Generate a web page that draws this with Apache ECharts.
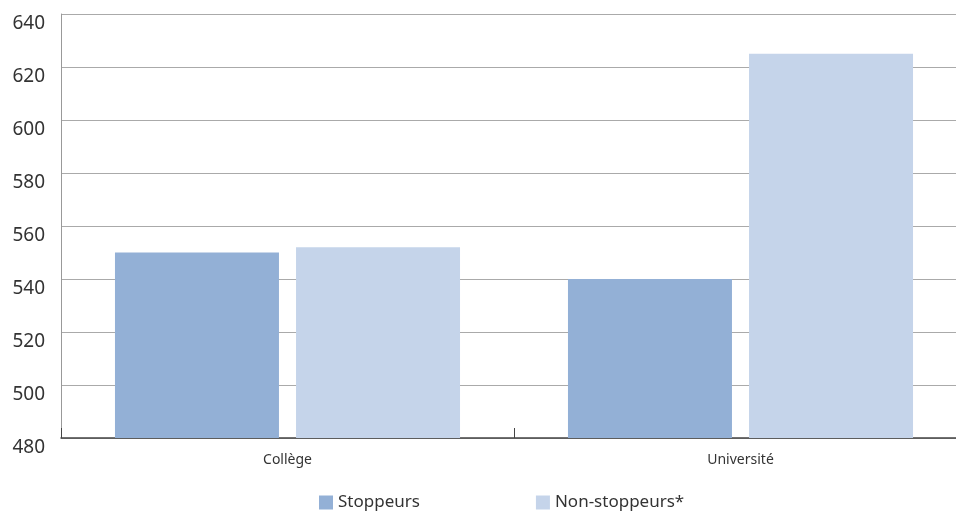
<!DOCTYPE html>
<html><head><meta charset="utf-8">
<script src="https://cdn.jsdelivr.net/npm/echarts@6/dist/echarts.min.js"></script>
<style>html,body{margin:0;padding:0;background:#fff;overflow:hidden}#c{width:970px;height:512px}</style>
</head><body><div id="c"></div>
<script>
var categories = ['Collège', 'Université'];
var stoppeurs = [550, 540];
var nonStoppeurs = [552, 625];
var seriesNames = ['Stoppeurs', 'Non-stoppeurs*'];
var yMin = 480, yMax = 640, yStep = 20;

var chart = echarts.init(document.getElementById('c'), null, {renderer: 'canvas'});
var font = '"Noto Sans", sans-serif';
chart.setOption({
  animation: false,
  textStyle: {fontFamily: font},
  grid: {left: 61, right: 3, top: 14, bottom: 74, containLabel: false},
  legend: {
    left: 314, top: 489, itemWidth: 14, itemHeight: 14, itemGap: 116,
    icon: 'rect',
    textStyle: {fontSize: 17, color: '#333', fontFamily: font},
    data: seriesNames
  },
  xAxis: {
    type: 'category', data: categories,
    axisLine: {lineStyle: {color: '#444', width: 1.5}},
    axisTick: {show: true, inside: true, length: 10, interval: 0, lineStyle: {color: '#444'}},
    axisLabel: {fontSize: 14, color: '#333', margin: 15, fontFamily: font}
  },
  yAxis: {
    type: 'value', min: yMin, max: yMax, interval: yStep,
    axisLine: {show: true, lineStyle: {color: '#999'}},
    axisTick: {show: false},
    splitLine: {lineStyle: {color: '#aaa', width: 1}},
    axisLabel: {fontSize: 19, color: '#333', margin: 16, verticalAlign: 'top', fontFamily: font}
  },
  series: [
    {name: seriesNames[0], type: 'bar', data: stoppeurs, barWidth: 164, barGap: '10.4%',
     itemStyle: {color: '#93b0d6'}},
    {name: seriesNames[1], type: 'bar', data: nonStoppeurs, barWidth: 164,
     itemStyle: {color: '#c5d4ea'}}
  ]
});
</script></body></html>
